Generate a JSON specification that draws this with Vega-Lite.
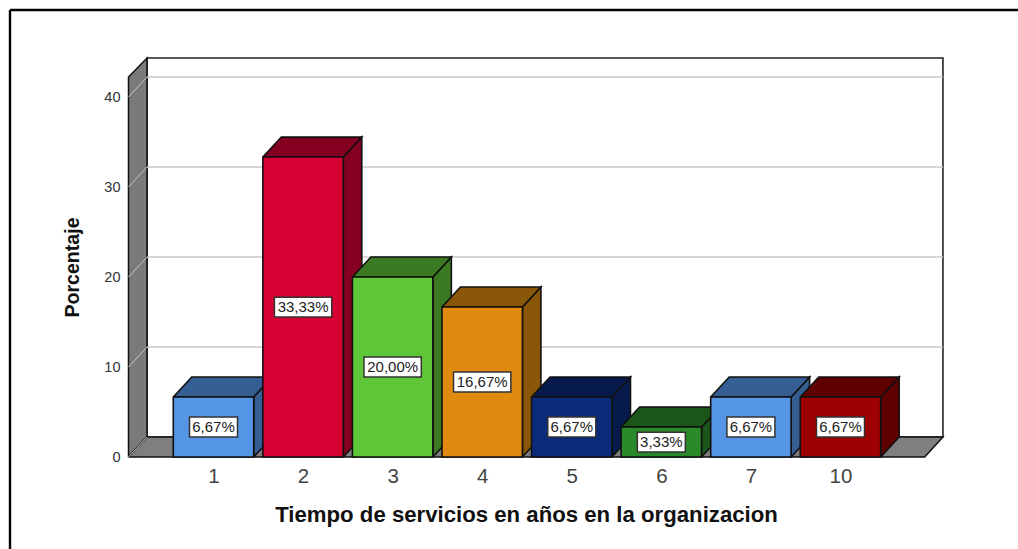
{
"$schema":"https://vega.github.io/schema/vega-lite/v6.json",
"width":1008,"height":539,
"autosize":{"type":"none"},
"padding":{"left":10,"top":10,"right":0,"bottom":0},
"background":"white",
"config":{"view":{"stroke":null},"font":"Liberation Sans"},
"params":[
{"name":"hw","value":0.449},{"name":"dx","value":0.2065},{"name":"dy","value":2.22},
{"name":"xf","value":0.051},{"name":"xb","value":0.2576},{"name":"xfr","value":8.94},{"name":"xbr","value":9.144},
{"name":"wt","value":44.33},{"name":"wf","value":42.22}
],
"datasets":{
"bars":[{"cat":"1","pct":6.67},{"cat":"2","pct":33.33},{"cat":"3","pct":20.0},{"cat":"4","pct":16.67},{"cat":"5","pct":6.67},{"cat":"6","pct":3.33},{"cat":"7","pct":6.67},{"cat":"10","pct":6.67}],
"ticks":[{"t":0},{"t":10},{"t":20},{"t":30},{"t":40}],
"corners":[{"c":0},{"c":1},{"c":2},{"c":3},{"c":4}],
"frame":[{"edge":"top"},{"edge":"left"}]
},
"encoding":{
"x":{"field":"X","type":"quantitative","scale":{"domain":[-1.272,9.982],"nice":false,"zero":false},
"axis":{"values":[1,2,3,4,5,6,7,8],"labelExpr":"['1','2','3','4','5','6','7','10'][datum.value-1]","grid":false,"domain":false,"ticks":false,"tickSize":0,"labelPadding":0,"offset":-83,"labelFontSize":20.5,"labelColor":"#444444","labelFont":"Liberation Sans","labelBaseline":"top","title":"Tiempo de servicios en años en la organizacion","titleFont":"Liberation Sans","titleFontSize":22.2,"titleFontWeight":"bold","titleColor":"#111111","titleX":516,"titleY":48,"titleAnchor":"middle","titleAlign":"center","titleBaseline":"middle","labelOverlap":false}},
"y":{"field":"Y","type":"quantitative","scale":{"domain":[-10.22,49.67],"nice":false,"zero":false},
"axis":{"values":[0,10,20,30,40],"grid":false,"domain":false,"ticks":false,"tickSize":0,"labelPadding":0,"offset":-110,"labelFontSize":14.5,"labelColor":"#333333","labelFont":"Liberation Sans","title":"Porcentaje","titleFont":"Liberation Sans","titleFontSize":19.6,"titleFontWeight":"bold","titleColor":"#111111","titleX":-48,"titleY":257,"titleAngle":-90,"titleAlign":"center","titleBaseline":"middle"}}
},
"layer":[
{"data":{"name":"frame"},
 "transform":[
 {"calculate":"-1.272","as":"X"},
 {"calculate":"datum.edge==='top'?9.982:-1.272","as":"X2"},
 {"calculate":"49.67","as":"Y"},
 {"calculate":"datum.edge==='top'?49.67:-10.22","as":"Y2"}],
 "mark":{"type":"rule","stroke":"#000000","strokeWidth":2.4},
 "encoding":{"x2":{"field":"X2"},"y2":{"field":"Y2"}}},
{"data":{"values":[{"wall":"back"}]},
 "transform":[{"calculate":"xb","as":"X"},{"calculate":"xbr","as":"X2"},{"calculate":"dy","as":"Y"},{"calculate":"wt","as":"Y2"}],
 "mark":{"type":"rect","fill":"#ffffff","stroke":"#222222","strokeWidth":1.6},
 "encoding":{"x2":{"field":"X2"},"y2":{"field":"Y2"}}},
{"data":{"name":"corners"},
 "transform":[{"calculate":"[xf,xb,xb,xf,xf][datum.c]","as":"X"},{"calculate":"[0,dy,wt,wf,0][datum.c]","as":"Y"}],
 "mark":{"type":"line","fill":"#7a7a7a","stroke":"#111111","strokeWidth":1.5},
 "encoding":{"order":{"field":"c","type":"ordinal"}}},
{"data":{"name":"corners"},
 "transform":[{"calculate":"[xf,xfr,xbr,xb,xf][datum.c]","as":"X"},{"calculate":"[0,0,dy,dy,0][datum.c]","as":"Y"}],
 "mark":{"type":"line","fill":"#7f7f7f","stroke":"#111111","strokeWidth":1.5},
 "encoding":{"order":{"field":"c","type":"ordinal"}}},
{"data":{"name":"ticks"},"transform":[{"filter":"datum.t>0"},{"calculate":"xb","as":"X"},{"calculate":"xbr","as":"X2"},{"calculate":"datum.t+dy","as":"Y"}],
 "mark":{"type":"rule","stroke":"#c8c8c8","strokeWidth":1.5},
 "encoding":{"x2":{"field":"X2"}}},
{"data":{"name":"ticks"},"transform":[{"calculate":"xf","as":"X"},{"calculate":"xb","as":"X2"},{"calculate":"datum.t","as":"Y"},{"calculate":"datum.t+dy","as":"Y2"}],
 "mark":{"type":"rule","stroke":"#c8c8c8","strokeWidth":1},
 "encoding":{"x2":{"field":"X2"},"y2":{"field":"Y2"}}},
{"data":{"name":"bars"},
 "transform":[
 {"calculate":"indexof(['1','2','3','4','5','6','7','10'],datum.cat)+1","as":"pos"},
 {"calculate":"[0,1,2,3,4]","as":"c"},{"flatten":["c"]},
 {"calculate":"[datum.pos+hw,datum.pos+hw+dx,datum.pos+hw+dx,datum.pos+hw,datum.pos+hw][datum.c]","as":"X"},
 {"calculate":"[0,dy,datum.pct+dy,datum.pct,0][datum.c]","as":"Y"}],
 "mark":{"type":"line","stroke":"#111111","strokeWidth":1.6,"strokeJoin":"miter"},
 "encoding":{"detail":{"field":"cat"},"order":{"field":"c","type":"ordinal"},
 "fill":{"field":"cat","type":"nominal","legend":null,"scale":{"domain":["1","2","3","4","5","6","7","10"],"range":["#355E92","#850020","#3B7A22","#8A5708","#061A4C","#1A561A","#355E92","#5F0000"]}}}},
{"data":{"name":"bars"},
 "transform":[
 {"calculate":"indexof(['1','2','3','4','5','6','7','10'],datum.cat)+1","as":"pos"},
 {"calculate":"[0,1,2,3,4]","as":"c"},{"flatten":["c"]},
 {"calculate":"[datum.pos-hw,datum.pos+hw,datum.pos+hw+dx,datum.pos-hw+dx,datum.pos-hw][datum.c]","as":"X"},
 {"calculate":"[datum.pct,datum.pct,datum.pct+dy,datum.pct+dy,datum.pct][datum.c]","as":"Y"}],
 "mark":{"type":"line","stroke":"#111111","strokeWidth":1.6,"strokeJoin":"miter"},
 "encoding":{"detail":{"field":"cat"},"order":{"field":"c","type":"ordinal"},
 "fill":{"field":"cat","type":"nominal","legend":null,"scale":{"domain":["1","2","3","4","5","6","7","10"],"range":["#355E92","#850020","#3B7A22","#8A5708","#061A4C","#1A561A","#355E92","#5F0000"]}}}},
{"data":{"name":"bars"},
 "transform":[
 {"calculate":"indexof(['1','2','3','4','5','6','7','10'],datum.cat)+1","as":"pos"},
 {"calculate":"datum.pos-hw","as":"X"},{"calculate":"datum.pos+hw","as":"X2"},{"calculate":"datum.pct","as":"Y"},{"calculate":"0","as":"Y2"}],
 "mark":{"type":"rect","stroke":"#111111","strokeWidth":1.6},
 "encoding":{"x2":{"field":"X2"},"y2":{"field":"Y2"},
 "fill":{"field":"cat","type":"nominal","legend":null,"scale":{"domain":["1","2","3","4","5","6","7","10"],"range":["#5595E5","#D60033","#5FC638","#E08A10","#0B2A7A","#2A8A2A","#5595E5","#9C0000"]}}}},
{"data":{"name":"bars"},
 "transform":[
 {"calculate":"indexof(['1','2','3','4','5','6','7','10'],datum.cat)+1","as":"pos"},
 {"calculate":"datum.pct>=10?0.32:0.268","as":"bw"},
 {"calculate":"datum.pos-datum.bw","as":"X"},{"calculate":"datum.pos+datum.bw","as":"X2"},
 {"calculate":"datum.pct/2+1.1","as":"Y"},{"calculate":"datum.pct/2-1.1","as":"Y2"}],
 "mark":{"type":"rect","fill":"#ffffff","stroke":"#333333","strokeWidth":1.5},
 "encoding":{"x2":{"field":"X2"},"y2":{"field":"Y2"}}},
{"data":{"name":"bars"},
 "transform":[
 {"calculate":"indexof(['1','2','3','4','5','6','7','10'],datum.cat)+1","as":"X"},
 {"calculate":"datum.pct/2","as":"Y"},
 {"calculate":"replace(format(datum.pct,'.2f'),'.',',')+'%'","as":"label"}],
 "mark":{"type":"text","font":"Liberation Sans","fontSize":15,"fill":"#222222","align":"center","baseline":"middle"},
 "encoding":{"text":{"field":"label"}}}
],
"resolve":{"scale":{"fill":"independent"}}
}
